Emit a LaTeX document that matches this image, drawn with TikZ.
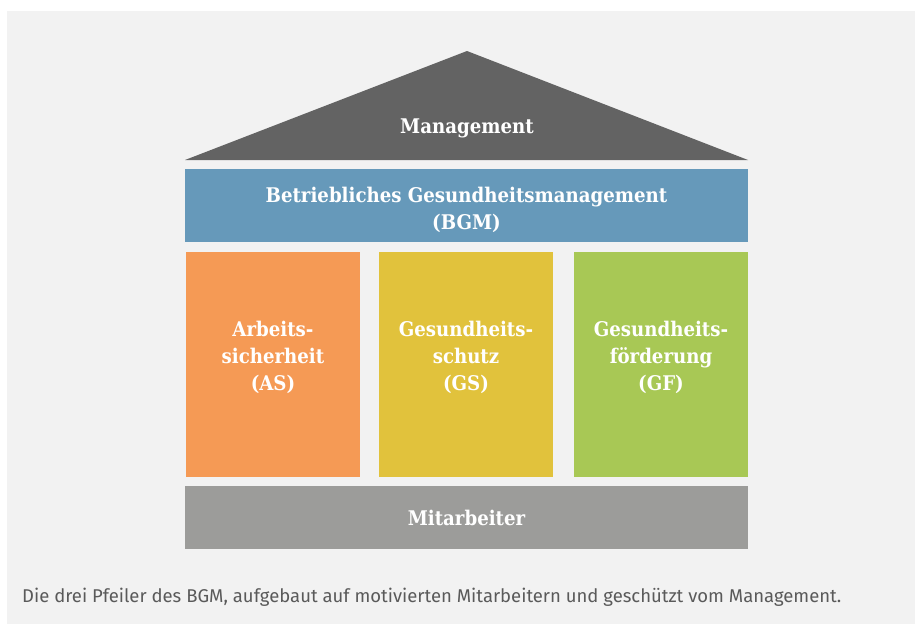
\documentclass[tikz,border=0pt]{standalone}
\usepackage{fontspec}
\setmainfont{DejaVu Serif Condensed}
\newfontfamily\captionfont{Fira Sans}
\definecolor{pagebg}{HTML}{F2F2F2}
\definecolor{roofgray}{HTML}{636363}
\definecolor{bgmblue}{HTML}{6699BA}
\definecolor{asorange}{HTML}{F59A55}
\definecolor{gsyellow}{HTML}{E1C23C}
\definecolor{gfgreen}{HTML}{A8C855}
\definecolor{basegray}{HTML}{9C9C9A}
\definecolor{captiongray}{HTML}{5A5A5A}
\begin{document}
\begin{tikzpicture}[x=1pt,y=-1pt,
  label text/.style={text=white,font=\bfseries\fontsize{20.2}{27}\selectfont,align=center}]
  % canvas: white margin with a light grey panel
  \useasboundingbox (0,0) rectangle (915,624);
  \fill[white] (0,0) rectangle (915,624);
  \fill[pagebg] (7,11) rectangle (915,624);

  % roof
  \fill[roofgray] (185,160) -- (467,51) -- (748,160) -- cycle;
  \node[label text] (mgmt) at (467,128.5) {Management};

  % beam
  \fill[bgmblue] (185,169) rectangle (748,242);
  \node[label text] (bgm) at (466.5,210) {Betriebliches Gesundheitsmanagement\\(BGM)};

  % pillars
  \fill[asorange] (186,252) rectangle (360,477);
  \fill[gsyellow] (379,252) rectangle (553,477);
  \fill[gfgreen] (574,252) rectangle (748,477);
  \node[label text] (as) at (273,357) {Arbeits-\\sicherheit\\(AS)};
  \node[label text] (gs) at (466,357) {Gesundheits-\\schutz\\(GS)};
  \node[label text] (gf) at (661,357) {Gesundheits-\\förderung\\(GF)};

  % foundation
  \fill[basegray] (185,486) rectangle (748,549);
  \node[label text] (ma) at (466.5,517.5) {Mitarbeiter};

  % caption
  \node[anchor=west,text=captiongray,font=\captionfont\fontsize{18.5}{20}\selectfont,inner sep=0pt] (cap) at (22,597)
    {Die drei Pfeiler des BGM, aufgebaut auf motivierten Mitarbeitern und geschützt vom Management.};
\end{tikzpicture}
\end{document}
